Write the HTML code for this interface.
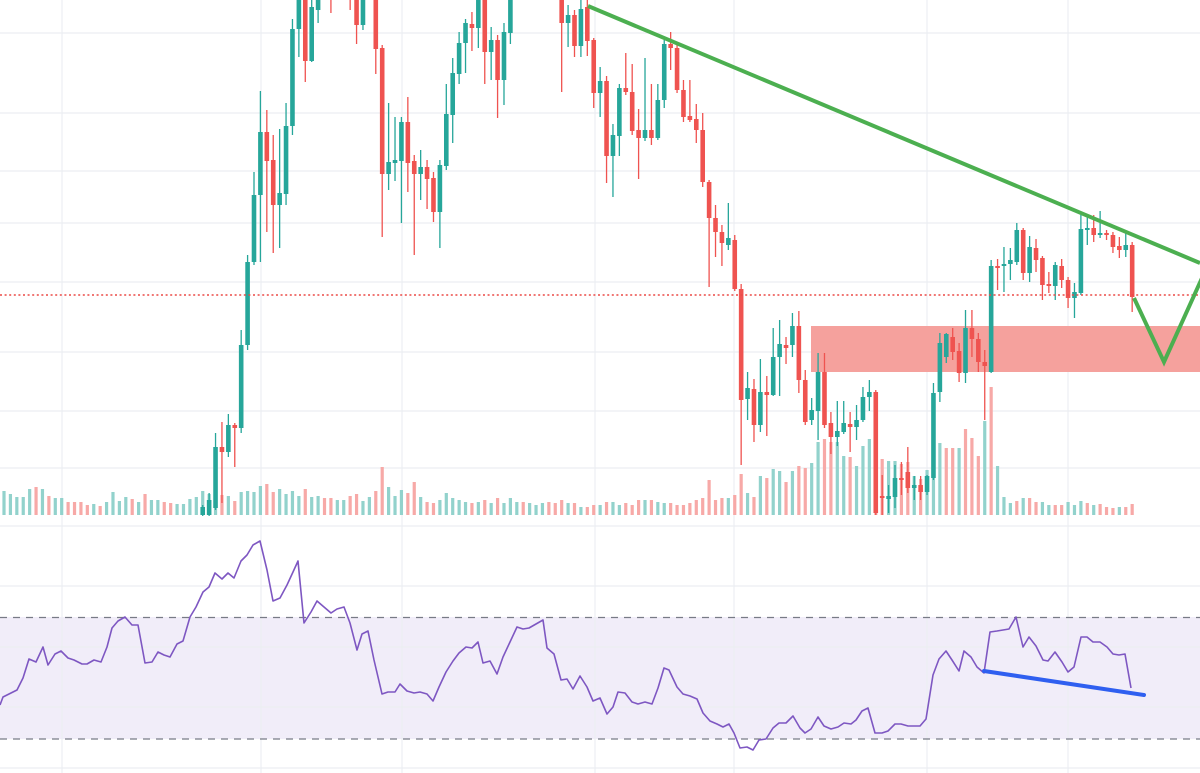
<!DOCTYPE html>
<html><head><meta charset="utf-8">
<style>html,body{margin:0;padding:0;background:#fff;overflow:hidden}svg{display:block}</style>
</head><body>
<svg id="c" width="1200" height="773" viewBox="0 0 1200 773" xmlns="http://www.w3.org/2000/svg">
<rect width="1200" height="773" fill="#fff"/>
<rect x="0" y="617" width="1200" height="122" fill="#f1edf9"/>
<g stroke="#eceef2" stroke-width="1.2" fill="none">
<line x1="0" y1="33" x2="1200" y2="33"/><line x1="0" y1="113" x2="1200" y2="113"/><line x1="0" y1="171" x2="1200" y2="171"/><line x1="0" y1="223" x2="1200" y2="223"/><line x1="0" y1="282" x2="1200" y2="282"/><line x1="0" y1="352" x2="1200" y2="352"/><line x1="0" y1="411" x2="1200" y2="411"/><line x1="0" y1="468" x2="1200" y2="468"/><line x1="0" y1="526" x2="1200" y2="526"/><line x1="0" y1="586" x2="1200" y2="586"/><line x1="0" y1="647" x2="1200" y2="647"/><line x1="0" y1="707" x2="1200" y2="707"/><line x1="0" y1="768" x2="1200" y2="768"/>
<line x1="62" y1="0" x2="62" y2="773"/><line x1="261" y1="0" x2="261" y2="773"/><line x1="402" y1="0" x2="402" y2="773"/><line x1="595" y1="0" x2="595" y2="773"/><line x1="734" y1="0" x2="734" y2="773"/><line x1="927" y1="0" x2="927" y2="773"/><line x1="1068" y1="0" x2="1068" y2="773"/>
</g>
<g stroke="#787b86" stroke-width="1.3" stroke-dasharray="7,6">
<line x1="0" y1="617.5" x2="1200" y2="617.5"/><line x1="0" y1="739" x2="1200" y2="739"/>
</g>
<rect x="811" y="326" width="389" height="46" fill="#f5a19d"/>
<g id="vol"></g>
<g id="cand"></g>
<line x1="0" y1="295" x2="1200" y2="295" stroke="#ec4a47" stroke-width="1.5" stroke-dasharray="2,2.6"/>
<polyline fill="none" stroke="#7e57c2" stroke-width="1.6" stroke-linejoin="round" points="0,705 3,697 17,690 23,678 29,659 36,662 43,647 48,665 55,654 61,651 68,658 74,660 82,664 87,664 94,660 101,662 107,647 112,628 118,621 125,617 132,625 138,625 145,663 152,662 158,652 164,655 170,657 177,644 183,641 190,617 196,607 203,592 209,587 215,573 222,579 228,573 234,578 241,561 247,555 253,545 260,541 267,570 273,601 280,598 287,585 293,572 298,561 304,623 311,612 317,601 324,607 331,613 337,609 344,607 350,623 357,650 362,634 368,631 374,660 382,694 388,692 395,692 400,684 407,691 414,693 420,692 427,694 433,701 439,687 446,672 453,661 459,653 466,647 472,648 478,642 483,663 490,661 497,674 503,657 510,642 517,627 523,629 529,628 536,624 543,620 547,648 554,654 561,680 567,679 573,689 580,676 587,687 593,701 600,698 607,714 613,707 618,692 625,693 632,702 638,704 645,702 652,704 658,688 664,668 669,670 677,687 683,694 690,696 697,699 703,713 710,721 717,724 723,727 729,724 734,733 740,748 747,747 753,750 759,740 766,739 773,728 779,723 786,723 793,716 800,728 805,733 811,729 818,717 824,726 831,729 838,727 844,723 851,724 856,720 862,711 868,708 875,733 882,733 888,731 895,724 901,724 908,726 914,726 920,726 926,719 933,675 939,659 946,651 952,660 959,671 964,651 971,657 977,667 984,673 990,632 997,631 1003,630 1009,629 1016,617 1023,647 1029,637 1036,646 1043,660 1048,661 1055,652 1062,662 1068,672 1074,667 1081,637 1087,637 1093,642 1100,642 1107,647 1113,654 1119,655 1125,654 1131,688"/>
<line x1="984" y1="671" x2="1144" y2="695" stroke="#2f5ff0" stroke-width="4" stroke-linecap="round"/>
<line x1="588" y1="6" x2="1200" y2="263" stroke="#4caf50" stroke-width="4"/>
<polyline points="1134,298 1164,362 1202,278" fill="none" stroke="#4caf50" stroke-width="4" stroke-linejoin="miter"/>
</svg>
<script>
(function(){
var NS="http://www.w3.org/2000/svg";
function X(i){return 254+6.41*(i-38);}
function el(p,tag,a){var e=document.createElementNS(NS,tag);for(var k in a)e.setAttribute(k,a[k]);p.appendChild(e);return e;}
var vt=[491,494,497,497,489,487,489,496,498,498,502,502,502,505,504,506,502,492,501,497,499,502,494,500,500,502,503,504,504,499,497,491,494,490,495,496,501,492,491,492,486,484,492,489,494,491,496,489,497,496,498,498,500,500,496,494,501,497,491,467,487,496,
490,493,482,497,502,503,500,493,498,500,502,503,502,500,503,498,503,498,502,502,503,505,503,502,503,500,503,503,507,507,505,505,502,502,505,503,505,500,500,500,502,503,503,505,505,503,500,498,480,500,498,498,495,474,493,497,476,478,469,471,482,471,466,
468,463,442,439,442,442,456,457,466,446,439,459,459,461,461,464,462,476,479,470,443,443,448,448,448,429,438,456,421,387,466,497,503,501,498,498,502,502,505,505,505,502,505,501,503,505,504,507,508,507,507,504];
var vc="TTTTTRTRTTRRRRTRTTTTRTRTTRRTTTTTTTRTRTTTTRRTTTTRTTRRTTRRTTRRTT"+
"TRRTRRTTTTTRTRTRTTTRTTTRRRTRTRRTRTTRRRTRTTRRRRRRRRRTRRTRTRTTRTR"+
"RTTRRTTRTTTRRTTRRTRTTTRRTRRRTRTTTRTRRTTRRTTTRTRRRTR";
var vg=document.getElementById("vol");
for(var k=0;k<vt.length;k++){var i=k-1;var x=X(i);
el(vg,"rect",{x:(x-1.6).toFixed(2),y:vt[k],width:3.2,height:515-vt[k],fill:vc[k]==="T"?"#92d2cc":"#f7a9a7"});}
var C=[
[30,1,507,515,505,516],[31,1,500,515,493,516],[32,1,447,508,433,510],[33,0,447,452,422,503],[34,1,425,452,414,457],[35,0,425,428,423,467],[36,1,345,428,330,433],[37,1,262,345,255,350],[38,1,195,262,172,265],[39,1,132,195,91,262],[40,0,132,161,110,232],[41,0,160,205,135,253],[42,1,193,205,129,248],[43,1,126,194,103,205],[44,1,29,126,19,135],[45,1,-10,29,-20,57],[46,0,-10,61,-20,82],[47,1,7,61,0,62],[48,1,-5,10,-10,23],[50,0,-20,-2,-30,13],[53,0,-20,-3,-30,10],[54,0,-10,25,-20,44],[55,1,-5,25,-10,30],[57,0,-5,49,-10,74],[58,0,48,174,45,237],[59,1,162,174,103,190],[60,1,160,163,117,181],[61,1,122,161,117,223],[62,0,122,163,97,192],[63,0,161,174,155,255],[64,1,167,174,150,200],[65,0,167,179,160,209],[66,0,178,212,172,222],[67,1,165,212,160,248],[68,1,114,166,84,170],[69,1,73,115,58,143],[70,1,43,74,32,84],[71,1,23,43,19,73],[72,0,24,28,12,51],[73,1,-5,28,-10,48],[74,0,-5,52,-10,84],[75,1,40,52,27,80],[76,0,40,80,35,118],[77,1,32,80,23,105],[78,1,-5,33,-10,44],
[86,0,-5,23,-10,92],[87,1,15,23,5,47],[88,0,15,46,10,57],[89,1,9,46,0,57],[90,0,7,41,0,56],[91,0,40,93,38,108],[92,1,81,93,67,117],[93,0,81,156,76,183],[94,1,135,156,124,197],[95,1,88,136,84,156],[96,0,88,92,53,95],[97,0,92,131,64,135],[98,0,130,138,109,179],[99,1,130,138,58,141],[100,0,130,138,84,145],[101,1,100,138,84,140],[102,1,44,100,40,108],[103,0,44,48,32,70],[104,0,48,90,44,93],[105,0,90,117,80,122],[106,0,116,120,80,122],[107,0,119,130,104,143],[108,0,130,182,113,187],[109,0,182,218,180,287],[110,0,218,232,205,257],[111,0,232,243,225,266],[112,1,238,245,203,250],[113,0,240,289,235,291],
[114,0,289,400,284,465],[115,1,388,399,372,420],[116,0,389,425,379,442],[117,1,392,425,359,432],[118,0,392,395,376,436],[119,1,357,395,328,396],[120,1,344,357,320,396],[121,0,345,348,337,364],[122,1,326,345,313,357],[123,0,326,380,311,393],[124,0,380,422,370,425],[125,1,410,420,398,425],[126,1,372,411,353,440],[127,0,372,425,353,428],[128,0,423,437,412,454],[129,1,431,437,401,446],[130,1,423,432,401,434],[131,0,424,427,412,452],[132,1,420,427,405,440],[133,1,397,420,387,422],[134,1,392,397,380,411],[135,0,392,513,390,515],[136,0,496,498,475,515],[137,1,496,499,485,513],[138,1,478,497,465,508],[139,0,478,480,462,495],[140,0,472,488,447,493],[141,1,485,488,476,500],[142,0,485,492,476,500],[143,1,476,492,475,495],[144,1,393,478,383,480],[145,1,343,392,333,402],[146,1,334,357,333,363],[147,0,337,352,328,360],[148,0,351,373,343,382],[149,1,328,373,310,383],[150,0,328,339,310,357],[151,0,339,362,333,372],[152,0,362,366,350,420],[153,1,266,372,260,373],[154,0,266,268,259,290],[155,1,264,266,247,292],[156,1,260,264,248,280],[157,1,230,262,223,265],[158,0,230,273,228,280],[159,1,247,273,236,282],[160,0,248,260,239,272],[161,0,258,285,256,300],[162,0,284,286,272,293],[163,1,265,286,262,300],[164,0,266,280,259,288],[165,0,280,298,277,308],[166,1,292,298,283,318],[167,1,229,293,215,295],[168,1,228,230,215,245],[169,0,228,235,215,242],[170,1,233,235,211,238],[171,0,233,235,230,240],[172,0,235,247,232,253],[173,0,246,250,237,258],[174,1,245,250,233,257],[175,0,245,297,242,312]];
var cg=document.getElementById("cand");
for(var j=0;j<C.length;j++){var c=C[j];var x=X(c[0]);var col=c[1]?"#26a69a":"#ef5350";
el(cg,"rect",{x:(x-0.65).toFixed(2),y:c[4],width:1.3,height:Math.max(1,c[5]-c[4]),fill:col});
var h=Math.max(1.5,c[3]-c[2]);
el(cg,"rect",{x:(x-2.3).toFixed(2),y:c[2],width:4.6,height:h,fill:col});}
})();
</script>
</body></html>
